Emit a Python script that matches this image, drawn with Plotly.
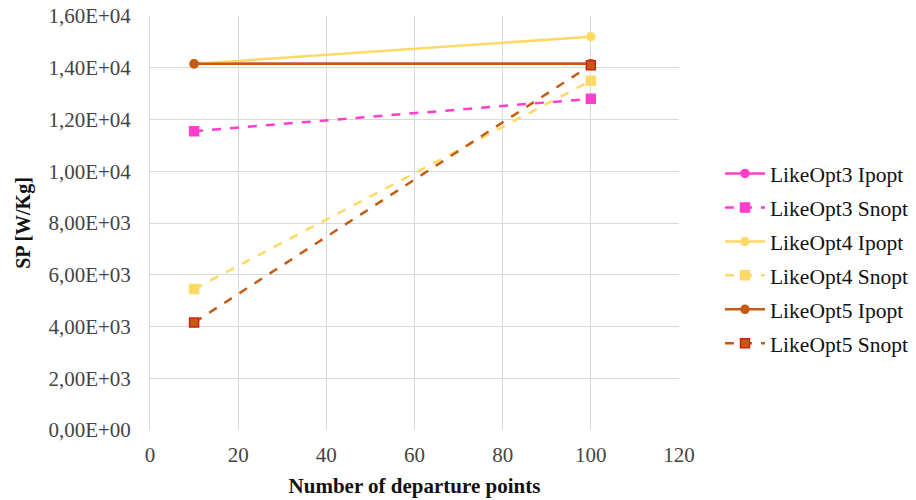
import plotly.graph_objects as go

# Number of departure points
departures = [10, 100]

# Specific power SP [W/Kg] per solver configuration
likeopt3_ipopt = [14150, 14150]
likeopt3_snopt = [11550, 12800]
likeopt4_ipopt = [14150, 15200]
likeopt4_snopt = [5450, 13500]
likeopt5_ipopt = [14150, 14150]
likeopt5_snopt = [4150, 14100]

y_tick_vals = [0, 2000, 4000, 6000, 8000, 10000, 12000, 14000, 16000]
y_tick_text = ["0,00E+00", "2,00E+03", "4,00E+03", "6,00E+03", "8,00E+03",
               "1,00E+04", "1,20E+04", "1,40E+04", "1,60E+04"]

MAGENTA = "#FF3FCC"
YELLOW = "#FFD966"
ORANGE = "#C55A11"

series = [
    ("LikeOpt3 Ipopt", likeopt3_ipopt, MAGENTA, "solid", "circle", MAGENTA, 8),
    ("LikeOpt3 Snopt", likeopt3_snopt, MAGENTA, "dash", "square", MAGENTA, 9),
    ("LikeOpt4 Ipopt", likeopt4_ipopt, YELLOW, "solid", "circle", YELLOW, 8),
    ("LikeOpt4 Snopt", likeopt4_snopt, YELLOW, "dash", "square", YELLOW, 9),
    ("LikeOpt5 Ipopt", likeopt5_ipopt, ORANGE, "solid", "circle", ORANGE, 8),
    ("LikeOpt5 Snopt", likeopt5_snopt, ORANGE, "dash", "square", "#D0201A", 9),
]

fig = go.Figure()
for i, (name, vals, color, dash, symbol, edge, size) in enumerate(series):
    fig.add_trace(go.Scatter(
        x=departures, y=vals, name=name, mode="lines+markers",
        line=dict(color=color, width=2.5, dash=dash),
        marker=dict(symbol=symbol, size=size, color=color,
                    line=dict(color=edge, width=1.5)),
        legendgroup=f"g{i}",
    ))

serif = "Liberation Serif, Times New Roman, serif"

fig.update_layout(
    width=916, height=500,
    margin=dict(l=150, r=237, t=16, b=70, autoexpand=False),
    paper_bgcolor="white", plot_bgcolor="white",
    font=dict(family=serif, size=20, color="#222222"),
    showlegend=True,
    legend=dict(
        x=0.786, xanchor="left", y=0.483, yanchor="middle",
        xref="container", yref="container",
        font=dict(family=serif, size=21.5, color="#111111"),
        traceorder="grouped", tracegroupgap=3,
        itemwidth=40, bgcolor="rgba(0,0,0,0)",
    ),
    xaxis=dict(
        range=[0, 120], tickvals=[0, 20, 40, 60, 80, 100, 120],
        showgrid=True, gridcolor="#D9D9D9", gridwidth=1,
        zeroline=False, showline=False, ticks="", automargin=False,
        ticklabelstandoff=10,
        tickfont=dict(family=serif, size=21, color="#444444"),
        title=dict(text="<b>Number of departure points</b>",
                   font=dict(family=serif, size=21, color="#111111"), standoff=12),
    ),
    yaxis=dict(
        range=[0, 16000], tickvals=y_tick_vals, ticktext=y_tick_text,
        showgrid=True, gridcolor="#D9D9D9", gridwidth=1,
        zeroline=False, showline=True, linecolor="#D9D9D9", ticks="",
        automargin=False, ticklabelstandoff=14,
        tickfont=dict(family=serif, size=21, color="#444444"),
        title=dict(text="<b>SP [W/Kg]</b>",
                   font=dict(family=serif, size=20, color="#111111"), standoff=12),
    ),
)

fig.write_html("out.html")
